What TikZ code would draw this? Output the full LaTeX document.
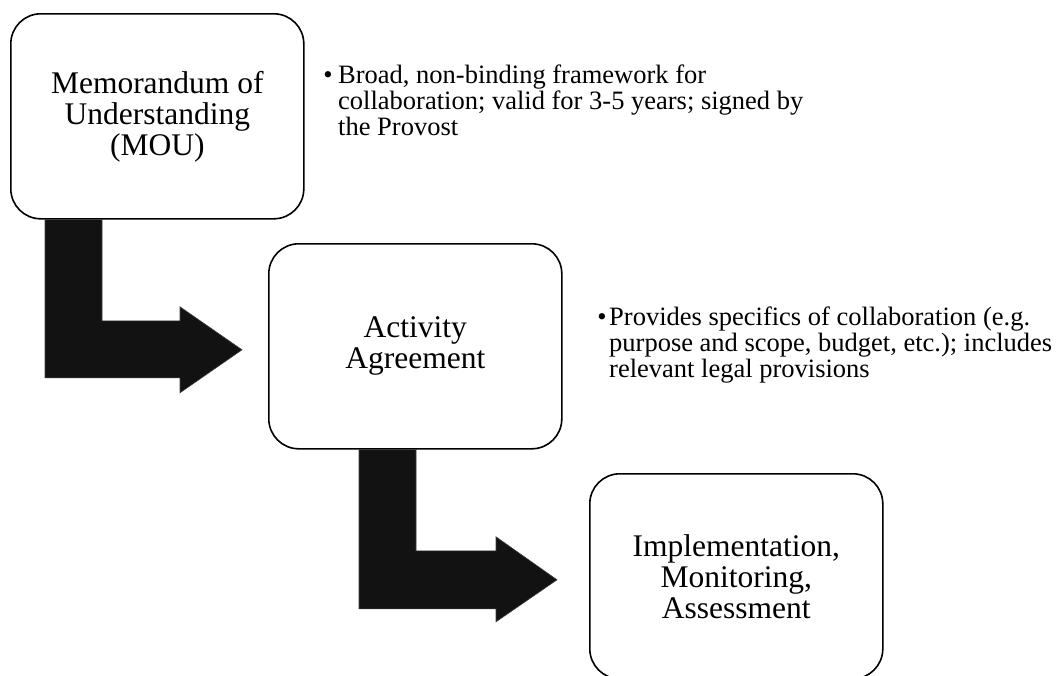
\documentclass[tikz,border=0pt]{standalone}
\usepackage{fontspec}
\setmainfont{Liberation Serif}
\usetikzlibrary{calc}
\begin{document}
\begin{tikzpicture}[x=1pt,y=-1pt,
  box/.style={draw, line width=1.6pt, rounded corners=30pt, minimum width=293pt,
    minimum height=205pt, align=center, inner sep=0pt,
    font=\fontsize{31.5}{31}\selectfont, anchor=north west},
  bultext/.style={align=left, inner sep=0pt, anchor=north west,
    font=\fontsize{26.5}{26}\selectfont},
  buldot/.style={inner sep=0pt, anchor=base, font=\fontsize{26.5}{26}\selectfont},
  bendarrow/.style={fill=black!93, draw=black!75, line width=0.6pt}]
\clip (0,0) rectangle (1058,675);
\fill[white] (0,0) rectangle (1058,675);

\node[box] (m) at (10,13) {Memorandum of\\Understanding\\(MOU)};
\node[box] (a) at (268,243) {Activity\\Agreement};
\node[box] (i) at (589,473) {Implementation,\\Monitoring,\\Assessment};

\node[buldot] (d1) at (328,83) {•};
\node[bultext] (t1) at (338,65) {Broad, non-binding framework for\\collaboration; valid for 3-5 years; signed by\\the Provost};
\node[buldot] (d2) at (602,325) {•};
\node[bultext] (t2) at (609,307) {Provides specifics of collaboration (e.g.\\purpose and scope, budget, etc.); includes\\relevant legal provisions};

\coordinate (p1) at ($(a.west)+(-26,3.5)$);
\filldraw[bendarrow] ($(m.south west)+(35,0)$) |- ($(p1)+(-62,28)$) -- ($(p1)+(-62,43)$)
  -- (p1) -- ($(p1)+(-62,-43)$) -- ($(p1)+(-62,-29)$) -| ($(m.south west)+(92,0)$) -- cycle;

\coordinate (p2) at ($(i.west)+(-32,3.5)$);
\filldraw[bendarrow] ($(a.south west)+(91,0)$) |- ($(p2)+(-61,29)$) -- ($(p2)+(-61,42)$)
  -- (p2) -- ($(p2)+(-61,-43)$) -- ($(p2)+(-61,-29)$) -| ($(a.south west)+(148,0)$) -- cycle;
\end{tikzpicture}
\end{document}
